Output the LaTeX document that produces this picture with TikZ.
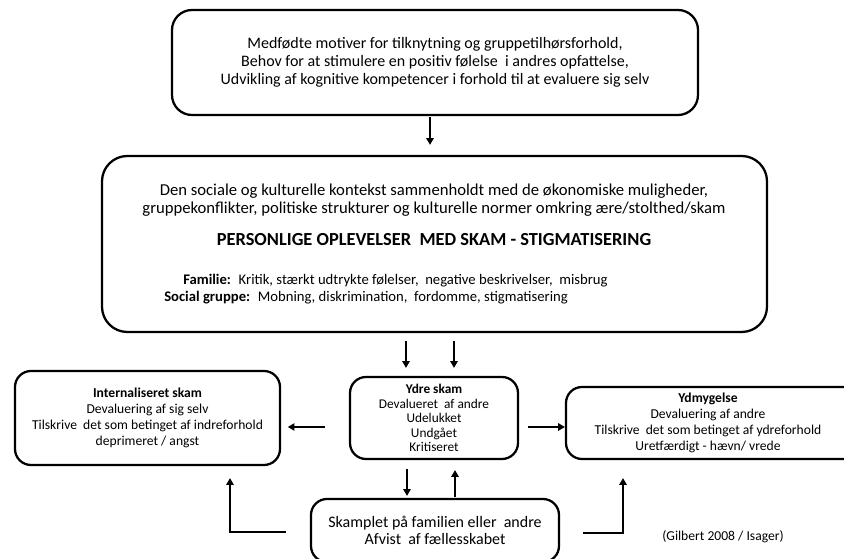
\documentclass[tikz,border=0pt]{standalone}
\usepackage{fontspec}
\setmainfont{Carlito}
\usetikzlibrary{arrows.meta}
\usetikzlibrary{calc}

\tikzset{
  boks/.style={draw, line width=1.7pt, align=center, inner sep=0pt},
  pil/.style={line width=1.4pt, -{Triangle[width=5.5pt,length=5pt]}},
}

\begin{document}
\begin{tikzpicture}[x=0.75pt,y=0.75pt,yscale=-1,xscale=1]
\useasboundingbox (0,0) rectangle (844,559);

%Shape: Rounded Rect [id:top] 
\node (motiver) [boks, rounded corners=15pt, minimum width=394.5pt, minimum height=78.75pt, font=\fontsize{12}{13.5}\selectfont] at (435,62.5) {Medfødte motiver for tilknytning og gruppetilhørsforhold,\\ Behov for at stimulere en positiv følelse \ i andres opfattelse,\\ Udvikling af kognitive kompetencer i forhold til at evaluere sig selv};
%Shape: Rounded Rect [id:ctx] 
\node (kontekst) [boks, rounded corners=19pt, minimum width=498.75pt, minimum height=132pt] at (434.5,244) {};
%Shape: Rounded Rect [id:intern] 
\node (intern) [boks, rounded corners=12pt, minimum width=198.75pt, minimum height=70.5pt, font=\fontsize{10.2}{12}\selectfont] at (147.5,418) {\textbf{Internaliseret skam}\\ Devaluering af sig selv\\ Tilskrive \ det som betinget af indreforhold\\ deprimeret / angst};
%Shape: Rounded Rect [id:ydre] 
\node (ydre) [boks, rounded corners=12pt, minimum width=126pt, minimum height=61.5pt, font=\fontsize{10}{10.9}\selectfont] at (434,418) {\textbf{Ydre skam}\\ Devalueret \ af andre\\ Udelukket\\ Undgået\\ Kritiseret};
%Shape: Rounded Rect [id:ydmyg] 
\node (ydmyg) [boks, rounded corners=12pt, minimum width=235.5pt, minimum height=54pt] at (723,423) {};
%Shape: Rounded Rect [id:skamplet] 
\node (skamplet) [boks, rounded corners=12pt, minimum width=186pt, minimum height=47.25pt, font=\fontsize{12}{13}\selectfont] at (435,530.5) {Skamplet på familien eller \ andre\\ Afvist \ af fællesskabet};

% Text Node
\node (ydmygTekst) [align=center, font=\fontsize{10.2}{12}\selectfont] at (708,423) {\textbf{Ydmygelse}\\ Devaluering af andre\\ Tilskrive \ det som betinget af ydreforhold\\ Uretfærdigt - hævn/ vrede};
% Text Node
\node (kontekstA) [align=center, font=\fontsize{12.5}{13.5}\selectfont] at (434,200) {Den sociale og kulturelle kontekst sammenholdt med de økonomiske muligheder,\\ gruppekonflikter, politiske strukturer og kulturelle normer omkring ære/stolthed/skam};
% Text Node
\node (titel) [font=\fontsize{13.8}{15}\selectfont\bfseries] at (434,240) {PERSONLIGE OPLEVELSER \ MED SKAM - STIGMATISERING};
% Text Node
\node (familie) [anchor=west, inner sep=0pt, font=\fontsize{11}{12}\selectfont] at (183,281) {\textbf{Familie:} \ Kritik, stærkt udtrykte følelser, \ negative beskrivelser, \ misbrug};
% Text Node
\node (social) [anchor=west, inner sep=0pt, font=\fontsize{11}{12}\selectfont] at (164,298) {\textbf{Social gruppe:} \ Mobning, diskrimination, \ fordomme, stigmatisering};
% Text Node
\node (kilde) [font=\fontsize{10.2}{11}\selectfont] at (723,537) {(Gilbert 2008 / Isager)};

%Straight Lines [id:pile] 
\draw [pil, shorten <=1pt, shorten >=7.5pt] ($(motiver.south)+(-5,0)$) -- ($(kontekst.north)+(-4.5,0)$);
\draw [pil, shorten <=6pt, shorten >=6pt] ($(kontekst.south)+(-28.5,0)$) -- ($(ydre.north)+(-28,0)$);
\draw [pil, shorten <=6pt, shorten >=6pt] ($(kontekst.south)+(19.5,0)$) -- ($(ydre.north)+(20,0)$);
\draw [pil, shorten <=18pt, shorten >=5pt] ($(ydre.west)+(0,9)$) -- ($(intern.east)+(0,9)$);
\draw [pil, shorten <=7pt] ($(ydre.east)+(0,9)$) -- ($(ydmyg.west)+(0,4)$);
\draw [pil, shorten <=7pt, shorten >=1.5pt] ($(ydre.south)+(-27,0)$) -- ($(skamplet.north)+(-28,0)$);
\draw [pil, shorten <=1pt, shorten >=7.5pt] ($(skamplet.north)+(20,0)$) -- ($(ydre.south)+(21,0)$);
\draw [pil] ($(skamplet.west)+(-24,1.5)$) -| ($(intern.south)+(82.5,12)$);
\draw [pil] ($(skamplet.east)+(23,2.5)$) -| ($(ydmyg.south)+(-100,18)$);

\end{tikzpicture}
\end{document}
